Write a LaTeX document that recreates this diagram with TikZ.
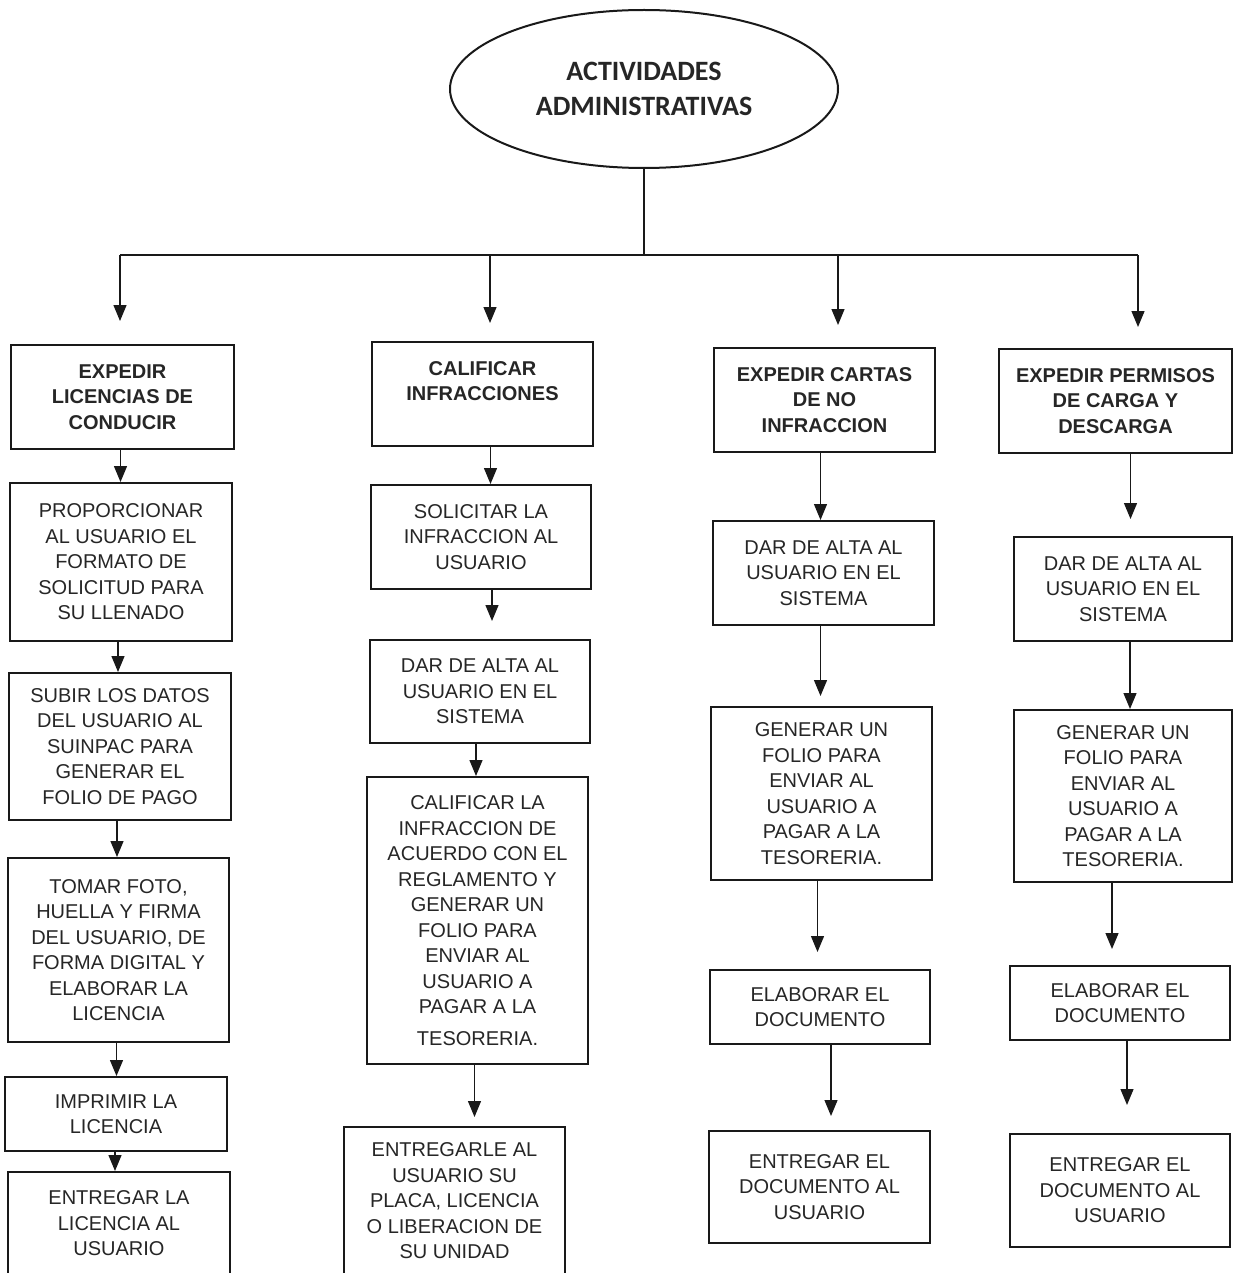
\documentclass[tikz,border=0pt]{standalone}
\usepackage{fontspec}
\setmainfont{Liberation Sans}
\newfontfamily\calibri{Carlito}
\usepackage{tikz}
\usetikzlibrary{shapes.geometric}
\usetikzlibrary{arrows.meta}
\tikzstyle{caja}=[draw=black!90, line width=2pt, inner sep=0pt, align=center, text=black!85, font=\fontsize{20}{25.5}\selectfont]
\tikzstyle{titulo}=[caja, font=\fontsize{20}{25.5}\selectfont\bfseries]
\tikzstyle{flecha}=[draw=black!90, line width=1.3pt, -{Triangle[width=13pt,length=16pt]}]

\begin{document}
\begin{tikzpicture}[x=1pt,y=-1pt]
            \path[use as bounding box, clip] (0,0) rectangle (1234,1273);
            \fill[white] (0,0) rectangle (1234,1273);
            % raiz
            \node [ellipse, draw=black!90, line width=2pt, minimum width=388pt, minimum height=158pt, align=center, text=black!85, font=\calibri\fontsize{28}{35}\selectfont\bfseries] (raiz) at (644,89) {ACTIVIDADES\\ADMINISTRATIVAS};
            \coordinate (bus) at (644,255);
            \coordinate (t1) at (120,255);
            \coordinate (t2) at (490,255);
            \coordinate (t3) at (838,255);
            \coordinate (t4) at (1138,255);
            \draw [draw=black!90, line width=1.3pt] (raiz.south) -- (bus);
            \draw [draw=black!90, line width=1.3pt] (t1) -- (t4);
            % columna 1
            \node [titulo, minimum width=223pt, minimum height=104pt] (a1) at (122.5,397) {EXPEDIR\\LICENCIAS DE\\CONDUCIR};
            \node [caja, minimum width=222pt, minimum height=158pt] (a2) at (121,562) {PROPORCIONAR\\AL USUARIO EL\\FORMATO DE\\SOLICITUD PARA\\SU LLENADO};
            \node [caja, minimum width=222pt, minimum height=147pt] (a3) at (120,746.5) {SUBIR LOS DATOS\\DEL USUARIO AL\\SUINPAC PARA\\GENERAR EL\\FOLIO DE PAGO};
            \node [caja, minimum width=221pt, minimum height=184pt] (a4) at (118.5,950) {TOMAR FOTO,\\HUELLA Y FIRMA\\DEL USUARIO, DE\\FORMA DIGITAL Y\\ELABORAR LA\\LICENCIA};
            \node [caja, minimum width=222pt, minimum height=74pt] (a5) at (116,1114) {IMPRIMIR LA\\LICENCIA};
            \node [caja, minimum width=222pt, minimum height=103pt] (a6) at (119,1223.5) {ENTREGAR LA\\LICENCIA AL\\USUARIO};
            % columna 2
            \node [titulo, minimum width=221pt, minimum height=104pt] (c1) at (482.5,394) {CALIFICAR\\INFRACCIONES\\~};
            \node [caja, minimum width=220pt, minimum height=104pt] (c2) at (481,537) {SOLICITAR LA\\INFRACCION AL\\USUARIO};
            \node [caja, minimum width=220pt, minimum height=103pt] (c3) at (480,691.5) {DAR DE ALTA AL\\USUARIO EN EL\\SISTEMA};
            \node [caja, minimum width=221pt, minimum height=287pt] (c4) at (477.5,920.5) {CALIFICAR LA\\INFRACCION DE\\ACUERDO CON EL\\REGLAMENTO Y\\GENERAR UN\\FOLIO PARA\\ENVIAR AL\\USUARIO A\\PAGAR A LA\\[6pt]TESORERIA.};
            \node [caja, minimum width=221pt, minimum height=148pt] (c5) at (454.5,1201) {ENTREGARLE AL\\USUARIO SU\\PLACA, LICENCIA\\O LIBERACION DE\\SU UNIDAD};
            % columna 3
            \node [titulo, minimum width=221pt, minimum height=104pt] (d1) at (824.5,400) {EXPEDIR CARTAS\\DE NO\\INFRACCION};
            \node [caja, minimum width=221pt, minimum height=104pt] (d2) at (823.5,573) {DAR DE ALTA AL\\USUARIO EN EL\\SISTEMA};
            \node [caja, minimum width=221pt, minimum height=173pt] (d3) at (821.5,793.5) {GENERAR UN\\FOLIO PARA\\ENVIAR AL\\USUARIO A\\PAGAR A LA\\TESORERIA.};
            \node [caja, minimum width=220pt, minimum height=74pt] (d4) at (820,1007) {ELABORAR EL\\DOCUMENTO};
            \node [caja, minimum width=221pt, minimum height=112pt] (d5) at (819.5,1187) {ENTREGAR EL\\DOCUMENTO AL\\USUARIO};
            % columna 4
            \node [titulo, minimum width=233pt, minimum height=104pt] (e1) at (1115.5,401) {EXPEDIR PERMISOS\\DE CARGA Y\\DESCARGA};
            \node [caja, minimum width=218pt, minimum height=104pt] (e2) at (1123,589) {DAR DE ALTA AL\\USUARIO EN EL\\SISTEMA};
            \node [caja, minimum width=218pt, minimum height=172pt] (e3) at (1123,796) {GENERAR UN\\FOLIO PARA\\ENVIAR AL\\USUARIO A\\PAGAR A LA\\TESORERIA.};
            \node [caja, minimum width=220pt, minimum height=74pt] (e4) at (1120,1003) {ELABORAR EL\\DOCUMENTO};
            \node [caja, minimum width=220pt, minimum height=113pt] (e5) at (1120,1190.5) {ENTREGAR EL\\DOCUMENTO AL\\USUARIO};
            % flechas del bus
            \draw [flecha, shorten >=23pt] (t1) -- (t1 |- a1.north);
            \draw [flecha, shorten >=18pt] (t2) -- (t2 |- c1.north);
            \draw [flecha, shorten >=22pt] (t3) -- (t3 |- d1.north);
            \draw [flecha, shorten >=21pt] (t4) -- (t4 |- e1.north);
            % flechas entre cajas
            \draw [flecha] ([xshift=-2pt]a1.south) -- ([xshift=-2pt]a1.south |- a2.north);
            \draw [flecha] ([xshift=-3pt]a2.south) -- ([xshift=-3pt]a2.south |- a3.north);
            \draw [flecha] ([xshift=-3pt]a3.south) -- ([xshift=-3pt]a3.south |- a4.north);
            \draw [flecha] ([xshift=-2pt]a4.south) -- ([xshift=-2pt]a4.south |- a5.north);
            \draw [flecha] ([xshift=-1pt]a5.south) -- ([xshift=-1pt]a5.south |- a6.north);
            \draw [flecha] ([xshift=8pt]c1.south) -- ([xshift=8pt]c1.south |- c2.north);
            \draw [flecha, shorten >=18pt] ([xshift=11pt]c2.south) -- ([xshift=11pt]c2.south |- c3.north);
            \draw [flecha] ([xshift=-4pt]c3.south) -- ([xshift=-4pt]c3.south |- c4.north);
            \draw [flecha, shorten >=9pt] ([xshift=-3pt]c4.south) -- ([xshift=-3pt]c4.south |- c5.north);
            \draw [flecha] ([xshift=-4pt]d1.south) -- ([xshift=-4pt]d1.south |- d2.north);
            \draw [flecha, shorten >=10pt] ([xshift=-3pt]d2.south) -- ([xshift=-3pt]d2.south |- d3.north);
            \draw [flecha, shorten >=17pt] ([xshift=-4pt]d3.south) -- ([xshift=-4pt]d3.south |- d4.north);
            \draw [flecha, shorten >=14pt] ([xshift=11pt]d4.south) -- ([xshift=11pt]d4.south |- d5.north);
            \draw [flecha, shorten >=17pt] ([xshift=15pt]e1.south) -- ([xshift=15pt]e1.south |- e2.north);
            \draw [flecha] ([xshift=7pt]e2.south) -- ([xshift=7pt]e2.south |- e3.north);
            \draw [flecha, shorten >=16pt] ([xshift=-11pt]e3.south) -- ([xshift=-11pt]e3.south |- e4.north);
            \draw [flecha, shorten >=28pt] ([xshift=7pt]e4.south) -- ([xshift=7pt]e4.south |- e5.north);
        \end{tikzpicture}
\end{document}
